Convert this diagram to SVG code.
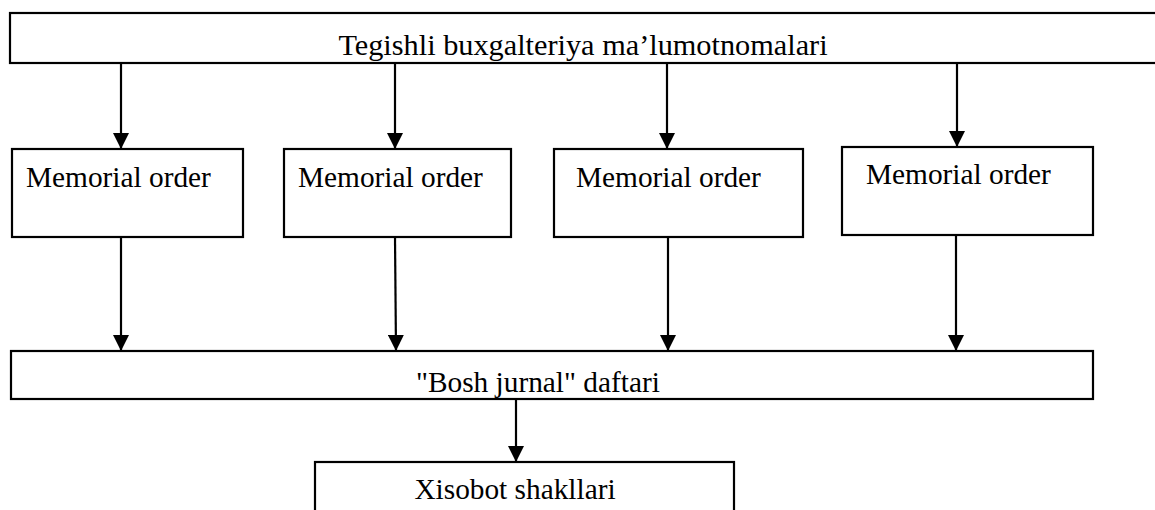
<svg xmlns="http://www.w3.org/2000/svg" width="1155" height="510" viewBox="0 0 1155 510">
<style>
.box{fill:#fff;stroke:#000;stroke-width:2.2}
.t{font-family:"Liberation Serif","Times New Roman",serif;font-size:29.33px;fill:#000}
.c{stroke:#000;stroke-width:2.2;fill:none}
</style>
<defs>
<marker id="ah" markerUnits="userSpaceOnUse" markerWidth="16" markerHeight="16" viewBox="0 0 16 16" refX="16" refY="8" orient="auto">
<path d="M0,0 L16,8 L0,16 Z" fill="#000"/>
</marker>
<clipPath id="cTop"><rect x="10" y="13" width="1150" height="50"/></clipPath>
<clipPath id="cBosh"><rect x="11" y="351" width="1082" height="48"/></clipPath>
</defs>
<rect width="1155" height="510" fill="#fff"/>
<g id="connectors">
<line class="c" x1="121" y1="63" x2="121" y2="149" marker-end="url(#ah)"/>
<line class="c" x1="395" y1="63" x2="395" y2="149" marker-end="url(#ah)"/>
<line class="c" x1="667" y1="63" x2="667" y2="149" marker-end="url(#ah)"/>
<line class="c" x1="957" y1="63" x2="957" y2="147" marker-end="url(#ah)"/>
<line class="c" x1="121" y1="237" x2="121" y2="351" marker-end="url(#ah)"/>
<line class="c" x1="395" y1="237" x2="396" y2="351" marker-end="url(#ah)"/>
<line class="c" x1="668" y1="237" x2="668" y2="351" marker-end="url(#ah)"/>
<line class="c" x1="956" y1="235" x2="956" y2="351" marker-end="url(#ah)"/>
<line class="c" x1="516" y1="399" x2="516" y2="462" marker-end="url(#ah)"/>
</g>
<g id="node-top">
<rect class="box" x="10" y="13" width="1160" height="50"/>
<text class="t" x="583" y="55" text-anchor="middle" clip-path="url(#cTop)" style="font-size:30.3px">Tegishli buxgalteriya ma’lumotnomalari</text>
</g>
<g id="node-m1">
<rect class="box" x="12" y="149" width="231" height="88"/>
<text class="t" x="26" y="187">Memorial order</text>
</g>
<g id="node-m2">
<rect class="box" x="284" y="149" width="227" height="88"/>
<text class="t" x="298" y="187">Memorial order</text>
</g>
<g id="node-m3">
<rect class="box" x="554" y="149" width="249" height="88"/>
<text class="t" x="576" y="187">Memorial order</text>
</g>
<g id="node-m4">
<rect class="box" x="842" y="147" width="251" height="88"/>
<text class="t" x="866" y="184">Memorial order</text>
</g>
<g id="node-bosh">
<rect class="box" x="11" y="351" width="1082" height="48"/>
<text class="t" x="416" y="392" clip-path="url(#cBosh)">"Bosh jurnal" daftari</text>
</g>
<g id="node-xisobot">
<rect class="box" x="315" y="462" width="419" height="60"/>
<text class="t" x="515" y="499" text-anchor="middle">Xisobot shakllari</text>
</g>
</svg>
